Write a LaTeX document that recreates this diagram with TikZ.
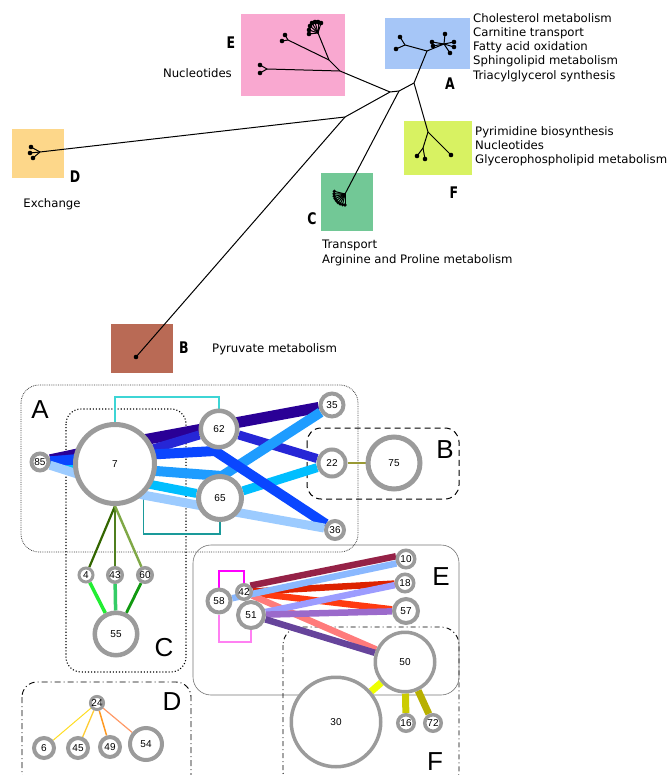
\documentclass[tikz,border=0pt]{standalone}
\usepackage{fontspec}
\setmainfont{DejaVu Sans}
\newfontfamily\netfont{Liberation Sans}
\newfontfamily\treebold[FakeStretch=0.78]{DejaVu Sans}
\usetikzlibrary{backgrounds}

\definecolor{pinkE}{HTML}{F9A8D0}
\definecolor{blueA}{HTML}{A6C6F7}
\definecolor{greenF}{HTML}{D8F262}
\definecolor{greenC}{HTML}{72C896}
\definecolor{orangeD}{HTML}{FDD78A}
\definecolor{brownB}{HTML}{B96A55}
\definecolor{ringgray}{HTML}{9B9B9B}
\definecolor{bNavy}{HTML}{2A0096}
\definecolor{bViolet}{HTML}{2626D6}
\definecolor{bBlue}{HTML}{0A46FF}
\definecolor{bSky}{HTML}{1E9CFF}
\definecolor{bCyan}{HTML}{00BEFF}
\definecolor{bLight}{HTML}{9CCBFF}
\definecolor{cyanline}{HTML}{3DD5D5}
\definecolor{tealline}{HTML}{1A9A9A}
\definecolor{eMaroon}{HTML}{952247}
\definecolor{eLblue}{HTML}{8AB8FF}
\definecolor{eRed}{HTML}{DD2200}
\definecolor{eLav}{HTML}{9C9CFF}
\definecolor{eOrange}{HTML}{FF3A10}
\definecolor{ePurple}{HTML}{9B6ACB}
\definecolor{eSalmon}{HTML}{FF7B7B}
\definecolor{eDpurple}{HTML}{66449B}
\definecolor{magline}{HTML}{FF00FF}
\definecolor{pinkline}{HTML}{FF80F2}
\definecolor{fYellow}{HTML}{EEFF00}
\definecolor{fOlive}{HTML}{CCCC00}
\definecolor{fDolive}{HTML}{B8B000}
\definecolor{cDark}{HTML}{336600}
\definecolor{cMid}{HTML}{4F7F1F}
\definecolor{cPale}{HTML}{7FA846}
\definecolor{cBright}{HTML}{22EE33}
\definecolor{cSea}{HTML}{33CC66}
\definecolor{cDeep}{HTML}{119911}
\definecolor{dGold}{HTML}{FFDD22}
\definecolor{dAmber}{HTML}{FFCC33}
\definecolor{dOrange}{HTML}{FF9922}
\definecolor{dSalmon}{HTML}{FF9966}
\definecolor{bOlive}{HTML}{999933}

\tikzset{
  net/.style={circle, draw=ringgray, fill=white, inner sep=0pt, line width=4pt,
    font=\netfont\fontsize{10}{12}\selectfont},
  grplab/.style={font=\netfont\fontsize{26}{26}\selectfont, inner sep=0pt},
  treetext/.style={font=\fontsize{11.7}{14.1}\selectfont, align=left, inner sep=0pt},
  treelab/.style={font=\treebold\bfseries\fontsize{16}{16}\selectfont, inner sep=0pt},
  branch/.style={line width=1pt},
  band/.style={line width=#1, line join=round},
  grpbox/.style={rounded corners=#1},
}

\begin{document}
\begin{tikzpicture}[x=1pt, y=-1pt]
  \useasboundingbox (0,0) rectangle (668,775);

  % tree of the clusters
  \fill[pinkE] (241,14) rectangle (345,96);
  \fill[blueA] (385,18) rectangle (470,69);
  \fill[greenF] (404,121) rectangle (472,175);
  \fill[greenC] (321,173) rectangle (373,231);
  \fill[orangeD] (12,129) rectangle (64,178);
  \fill[brownB] (111,324) rectangle (173,373);

  \coordinate (j0) at (390,92);
  \coordinate (j1) at (399,91);
  \coordinate (j2) at (414,83);
  \coordinate (jDB) at (345,117);
  \coordinate (eh) at (340,71);
  \coordinate (eh2) at (329,60);
  \coordinate (eha) at (288,40);
  \coordinate (ehb) at (318,33);
  \coordinate (ehc) at (267,69);
  \coordinate (ah) at (427,51);
  \coordinate (ahl) at (405,45);
  \coordinate (ahr) at (444,44);
  \coordinate (fh) at (428,132);
  \coordinate (fh2) at (423,148);
  \coordinate (dh) at (40,152);
  \coordinate (bh) at (136,357);
  \coordinate (ch) at (345,194);

  \draw[branch] (j0) -- (j1) -- (j2);
  \draw[branch] (j0) -- (eh) -- (eh2) -- (ehb);
  \draw[branch] (eh2) -- (eha);
  \draw[branch] (eh) -- (ehc);
  \draw[branch] (j0) -- (jDB) -- (dh);
  \draw[branch] (jDB) -- (bh);
  \draw[branch] (j1) -- (ch);
  \draw[branch] (j2) -- (ah) -- (ahl);
  \draw[branch] (ah) -- (ahr);
  \draw[branch] (j2) -- (fh) -- (fh2);

  \foreach \x/\y in {285/35, 282/41}
    {\draw[branch] (eha) -- (\x,\y); \fill (\x,\y) circle (2.3pt);}
  \foreach \x/\y in {309/30, 310/26, 312/23, 315/22, 318/22, 321/23, 309/34}
    {\draw[branch] (ehb) -- (\x,\y); \fill (\x,\y) circle (2.3pt);}
  \foreach \x/\y in {260/65, 260/73}
    {\draw[branch] (ehc) -- (\x,\y); \fill (\x,\y) circle (2.3pt);}
  \foreach \x/\y in {400/37, 396/49}
    {\draw[branch] (ahl) -- (\x,\y); \fill (\x,\y) circle (2.3pt);}
  \foreach \x/\y in {432/42, 433/46, 445/34, 454/42, 454/47, 450/53}
    {\draw[branch] (ahr) -- (\x,\y); \fill (\x,\y) circle (2.3pt);}
  \foreach \x/\y in {451/155}
    {\draw[branch] (fh) -- (\x,\y); \fill (\x,\y) circle (2.3pt);}
  \foreach \x/\y in {417/156, 425/159}
    {\draw[branch] (fh2) -- (\x,\y); \fill (\x,\y) circle (2.3pt);}
  \foreach \x/\y in {31/147, 30/153, 33/158}
    {\draw[branch] (dh) -- (\x,\y); \fill (\x,\y) circle (2.3pt);}
  \fill (bh) circle (2.3pt);
  \foreach \a in {90,103,...,195}
    {\draw[branch] (ch) -- ++(\a:11); \fill (ch) ++(\a:11) circle (1.8pt);}

  \node[treelab] (labE) at (231,43) {E};
  \node[treetext, anchor=east] (txtE) at (232,73) {Nucleotides};
  \node[treelab] (labA) at (450,84) {A};
  \node[treetext, anchor=west] (txtA) at (473,47.6) {Cholesterol metabolism\\Carnitine transport\\Fatty acid oxidation\\Sphingolipid metabolism\\Triacylglycerol synthesis};
  \node[treelab] (labF) at (454,193) {F};
  \node[treetext, anchor=west] (txtF) at (475,146) {Pyrimidine biosynthesis\\Nucleotides\\Glycerophospholipid metabolism};
  \node[treelab] (labC) at (312,219) {C};
  \node[treetext, anchor=west] (txtC) at (322,253) {Transport\\Arginine and Proline metabolism};
  \node[treelab] (labD) at (75,177) {D};
  \node[treetext] (txtD) at (52,204) {Exchange};
  \node[treelab] (labB) at (184,348) {B};
  \node[treetext, anchor=west] (txtB) at (212,349) {Pyruvate metabolism};

  % network of the modules
  \node[net, minimum size=79pt, line width=5pt] (n7) at (115,464) {7};
  \node[net, minimum size=17pt] (n85) at (40,462) {85};
  \node[net, minimum size=36.5pt, line width=4.5pt] (n62) at (219,429) {62};
  \node[net, minimum size=43pt, line width=5pt] (n65) at (220,498) {65};
  \node[net, minimum size=23pt] (n35) at (332,405) {35};
  \node[net, minimum size=27pt] (n22) at (332,463) {22};
  \node[net, minimum size=18pt] (n36) at (335,530) {36};
  \node[net, minimum size=52pt, line width=5pt] (n75) at (394,463) {75};
  \node[net, minimum size=14pt, line width=3pt] (n4) at (86,575) {4};
  \node[net, minimum size=14.5pt, line width=3.5pt] (n43) at (115,575) {43};
  \node[net, minimum size=14.5pt, line width=3.5pt] (n60) at (145,575) {60};
  \node[net, minimum size=42.5pt, line width=4.5pt] (n55) at (116,634) {55};
  \node[net, minimum size=12pt, line width=3pt] (n24) at (97,703) {24};
  \node[net, minimum size=20pt] (n6) at (44,748) {6};
  \node[net, minimum size=20pt] (n45) at (78,748) {45};
  \node[net, minimum size=20pt] (n49) at (110,747) {49};
  \node[net, minimum size=32pt] (n54) at (146,744) {54};
  \node[net, minimum size=17.5pt, line width=3.5pt] (n10) at (406,559) {10};
  \node[net, minimum size=17.5pt, line width=3.5pt] (n18) at (405,583) {18};
  \node[net, minimum size=24pt] (n57) at (406,611) {57};
  \node[net, minimum size=14.5pt, line width=3.5pt] (n42) at (244,592) {42};
  \node[net, minimum size=23pt] (n58) at (219,601) {58};
  \node[net, minimum size=26pt] (n51) at (251,615) {51};
  \node[net, minimum size=59.5pt, line width=3.5pt] (n50) at (405,662) {50};
  \node[net, minimum size=89.5pt, line width=3.5pt] (n30) at (336,722) {30};
  \node[net, minimum size=16.5pt, line width=3.5pt] (n16) at (406,723) {16};
  \node[net, minimum size=16.5pt, line width=3.5pt] (n72) at (433,723) {72};

  \node[grplab] (grpA) at (40,410) {A};
  \node[grplab] (grpB) at (445,450) {B};
  \node[grplab] (grpC) at (164,648) {C};
  \node[grplab] (grpD) at (172,702) {D};
  \node[grplab] (grpE) at (441,577) {E};
  \node[grplab] (grpF) at (435,762) {F};

  \coordinate (cyantop) at (0,397);
  \coordinate (tealbot) at (0,534);
  \coordinate (magtop) at (0,571);
  \coordinate (pinkbot) at (0,642);

  \begin{pgfonlayer}{background}
    \draw[grpbox=18pt, densely dotted, black!75, line width=0.8pt] (21,385) rectangle (358,552);
    \draw[grpbox=15pt, dotted, line width=1.1pt] (66,409) rectangle (186,672);
    \draw[grpbox=14pt, dash pattern=on 6pt off 4pt, line width=1pt] (307,428) rectangle (459,499);
    \draw[grpbox=18pt, black!55, line width=0.6pt] (193,545) rectangle (459,695);
    \draw[grpbox=18pt, dash pattern=on 5pt off 3pt on 1pt off 3pt, line width=0.9pt] (283,627) rectangle (459,790);
    \draw[grpbox=15pt, dash pattern=on 6pt off 3pt on 1pt off 3pt, line width=0.9pt] (22,682) rectangle (191,790);

    \draw[cyanline, line width=1.2pt] (n7.north) |- (n62.north |- cyantop) -- (n62.north);
    \draw[tealline, line width=1.2pt] (n7.-48) |- (n65.south |- tealbot) -- (n65.south);

    \draw[band=11pt, bNavy] (n85) -- (143,440) -- (n35);
    \draw[band=9pt, bViolet] (n85) -- (143,452) -- (n62) -- (n22);
    \draw[band=10pt, bSky] (n85) -- (143,470) -- (222,476) -- (n35);
    \draw[band=9pt, bCyan] (n85) -- (143,483) -- (n65) -- (n22);
    \draw[band=10pt, bBlue] (n85) -- (143,455) -- (215,451) -- (n36);
    \draw[band=9pt, bLight] (n85) -- (143,495) -- (235,512) -- (n36);
    \draw[bOlive, line width=1.2pt] (n22) -- (n75);

    \draw[cDark, line width=2.2pt] (n7.south) -- (n4);
    \draw[cMid, line width=2.6pt] (n7.south) -- (n43);
    \draw[cPale, line width=2.4pt] (n7.south) -- (n60);
    \draw[cBright, line width=3.5pt] (n4) -- (n55);
    \draw[cSea, line width=3.5pt] (n43) -- (n55);
    \draw[cDeep, line width=2.8pt] (n60) -- (n55);

    \draw[dGold, line width=1pt] (n24) -- (n6);
    \draw[dAmber, line width=1.3pt] (n24) -- (n45);
    \draw[dOrange, line width=1.5pt] (n24) -- (n49);
    \draw[dSalmon, line width=1.2pt] (n24) -- (n54);

    \draw[magline, line width=1.5pt] (n58.north) |- (n42.north |- magtop) -- (n42.north);
    \draw[pinkline, line width=1.5pt] (n58.south) |- (n51.south |- pinkbot) -- (n51.south);
    \draw[band=6.5pt, eRed] (n42) -- (n18);
    \draw[band=6.5pt, eOrange] (n42) -- (n57);
    \draw[band=6.5pt, eSalmon] (n42) -- (n50);
    \draw[band=6.5pt, eMaroon] (n42.north east) -- (n10.165);
    \draw[band=6.5pt, eLblue] (n58) -- (n10.205);
    \draw[band=6.5pt, eLav] (n51) -- (n18);
    \draw[band=6.5pt, ePurple] (n51) -- (n57);
    \draw[band=6.5pt, eDpurple] (n51) -- (n50);

    \draw[fYellow, line width=7pt] (n50) -- (n30);
    \draw[fOlive, line width=7pt] (n50) -- (n16);
    \draw[fDolive, line width=7pt] (n50) -- (n72);
  \end{pgfonlayer}
\end{tikzpicture}
\end{document}
